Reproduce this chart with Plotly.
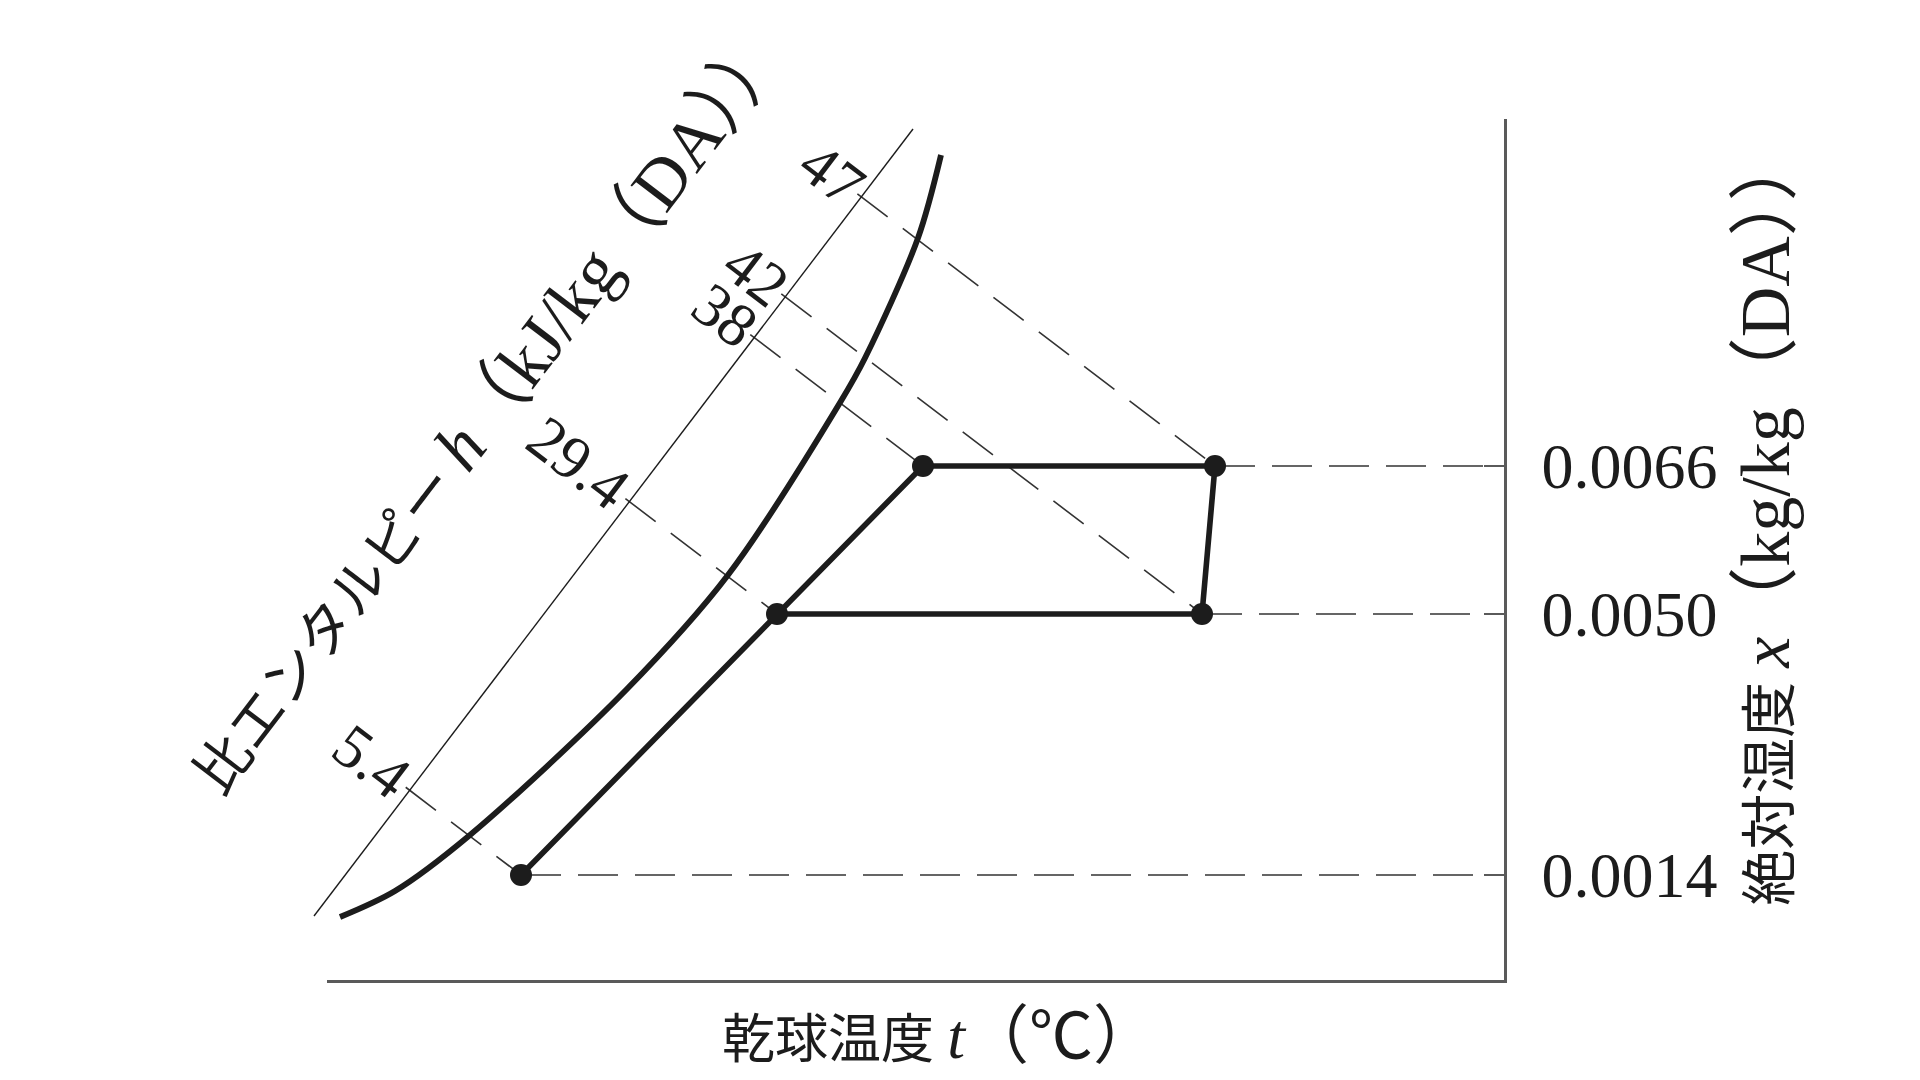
import numpy as np
import plotly.graph_objects as go

# ---------------- data (schematic chart units) ----------------
humidity_labels = ["0.0014", "0.0050", "0.0066"]      # absolute humidity x (kg/kg(DA))
humidity_pos = [10.5, 36.6, 51.4]                       # where each level sits on the drawn scale

state_names = ["A", "B", "C", "D", "E"]
state_t = [19.4, 45.0, 59.6, 88.8, 87.5]                # dry-bulb position
state_level = [0, 1, 2, 2, 1]                           # humidity level index
state_h = ["5.4", "29.4", "38", "47", "42"]             # specific enthalpy kJ/kg(DA)

process_path = ["A", "B", "C", "D", "E", "B"]

# saturation curve
sat_t = [1.3, 6.8, 14.3, 29.9, 40.1, 51.4, 53.8, 59.1, 61.4]
sat_x = [6.3, 8.9, 14.5, 29.0, 40.5, 57.9, 62.2, 74.2, 82.5]

# enthalpy scale line
hscale_t = [-1.3, 58.6]
hscale_x = [6.4, 85.1]

T_MIN, T_MAX = 0.0, 117.7
X_MIN, X_MAX = 0.0, 86.1
T_PAD = 1.6            # extra room on the left for the enthalpy scale line

# ---------------- figure ----------------
SERIF = "Liberation Serif, 'Noto Sans CJK JP', serif"
INK = "#1c1c1c"
AXC = "#5a5a5a"

W, H = 1920, 1080
ML, MR, MT, MB = 303, 424, 111, 108
x_dom0 = T_PAD / (T_MAX - T_MIN + T_PAD)


def big(s, size):
    return f'<span style="font-size:{size}px">{s}</span>'


pts = {n: (t, humidity_pos[l]) for n, t, l in zip(state_names, state_t, state_level)}

fig = go.Figure()

# enthalpy scale line (thin) on an auxiliary, wider subplot with identical scaling
fig.add_trace(go.Scatter(x=hscale_t, y=hscale_x, mode="lines", xaxis="x2", yaxis="y2",
                         line=dict(color=INK, width=1.4), hoverinfo="skip"))

d = np.array([hscale_t[1] - hscale_t[0], hscale_x[1] - hscale_x[0]], dtype=float)
d /= np.linalg.norm(d)
nrm = np.array([d[1], -d[0]])            # points down-right (constant-enthalpy direction)
p0 = np.array([hscale_t[0], hscale_x[0]])
text_angle = float(np.degrees(np.arctan2(-nrm[1], nrm[0])))

LABEL_SIZE = 62
annotations = []
for n, hlab in zip(state_names, state_h):
    p = np.array(pts[n])
    tick = p0 + np.dot(p - p0, d) * d
    start = tick - 0.5 * nrm
    fig.add_trace(go.Scatter(x=[start[0], p[0]], y=[start[1], p[1]], mode="lines",
                             line=dict(color="#333333", width=1.6, dash="38px,19px"),
                             hoverinfo="skip"))
    n_chars = sum(0.5 if c.isdigit() else 0.35 for c in hlab)
    off = (6 + 0.5 * n_chars * LABEL_SIZE) / 10.0
    c = tick - off * nrm
    annotations.append(dict(x=c[0], y=c[1], xref="x", yref="y", text=hlab,
                            showarrow=False, textangle=text_angle,
                            xanchor="center", yanchor="middle",
                            font=dict(family=SERIF, size=LABEL_SIZE, color=INK)))

# horizontal dashed lines from right-most state on each humidity level to the axis
for lvl, ypos in enumerate(humidity_pos):
    ts = [t for t, l in zip(state_t, state_level) if l == lvl]
    fig.add_trace(go.Scatter(x=[max(ts), T_MAX], y=[ypos, ypos], mode="lines",
                             line=dict(color="#333333", width=1.6, dash="40px,17px"),
                             hoverinfo="skip"))

# saturation curve
fig.add_trace(go.Scatter(x=sat_t, y=sat_x, mode="lines",
                         line=dict(color=INK, width=5.8, shape="spline", smoothing=0.9),
                         hoverinfo="skip"))

# process path
fig.add_trace(go.Scatter(x=[pts[n][0] for n in process_path],
                         y=[pts[n][1] for n in process_path],
                         mode="lines", line=dict(color=INK, width=5.6),
                         hoverinfo="skip"))
fig.add_trace(go.Scatter(x=[pts[n][0] for n in state_names],
                         y=[pts[n][1] for n in state_names],
                         mode="markers", marker=dict(color=INK, size=22),
                         hoverinfo="skip"))

# slanted enthalpy title
annotations.append(dict(x=16.0, y=57.0, xref="x", yref="y",
                        text="比エンタルピー " + big("<i>h</i>（kJ/kg（DA））", 70),
                        showarrow=False, textangle=-(90 - text_angle),
                        xanchor="center", yanchor="middle",
                        font=dict(family=SERIF, size=56, color=INK)))
# dry-bulb temperature title (below the axis)
annotations.append(dict(x=0.527, y=-0.022, xref="paper", yref="paper",
                        text="乾球温度 " + big("<i>t</i>（℃）", 64),
                        showarrow=False, xanchor="center", yanchor="top",
                        font=dict(family=SERIF, size=53, color=INK)))
# absolute humidity title (right of tick labels)
annotations.append(dict(x=1.219, y=0.536, xref="paper", yref="paper",
                        text="絶対湿度 " + big("<i>x</i>（kg/kg（DA））", 70),
                        showarrow=False, textangle=-90,
                        xanchor="center", yanchor="middle",
                        font=dict(family=SERIF, size=56, color=INK)))

fig.update_layout(
    width=W, height=H, autosize=False,
    paper_bgcolor="white", plot_bgcolor="rgba(0,0,0,0)",
    showlegend=False, hovermode=False,
    margin=dict(l=ML, r=MR, t=MT, b=MB),
    annotations=annotations,
    xaxis=dict(range=[T_MIN, T_MAX], domain=[x_dom0, 1], showgrid=False, zeroline=False,
               showline=True, linecolor=AXC, linewidth=2.5,
               ticks="", showticklabels=False),
    yaxis=dict(range=[X_MIN, X_MAX], side="right", showgrid=False, zeroline=False,
               showline=True, linecolor=AXC, linewidth=2.5,
               ticks="inside", ticklen=20, tickwidth=2, tickcolor=AXC,
               tickvals=humidity_pos, ticktext=humidity_labels,
               ticklabelstandoff=22,
               tickfont=dict(family=SERIF, size=64, color=INK)),
    xaxis2=dict(range=[T_MIN - T_PAD, T_MAX], domain=[0, 1], anchor="y2", visible=False),
    yaxis2=dict(range=[X_MIN, X_MAX], domain=[0, 1], anchor="x2", visible=False),
)

fig.write_html("out.html")
